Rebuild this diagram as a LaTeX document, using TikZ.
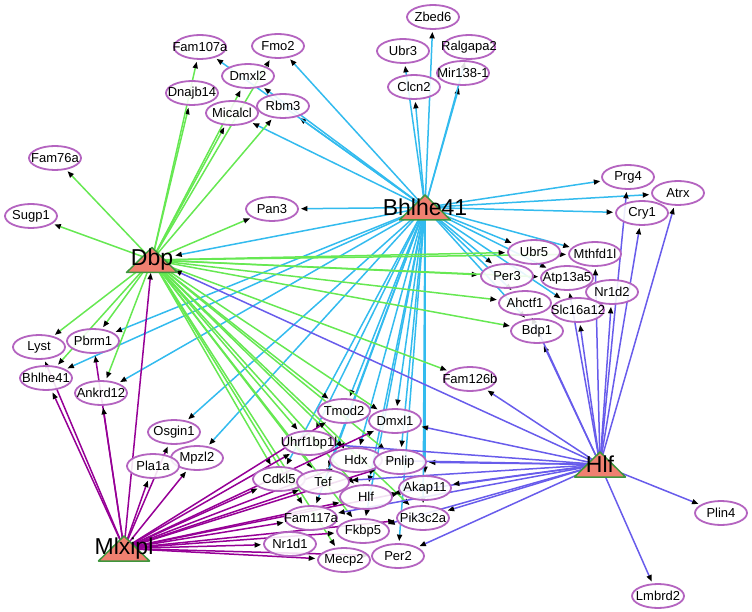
\documentclass[tikz,border=0pt]{standalone}
\usepackage{fontspec}
\setmainfont{Liberation Sans}
\usetikzlibrary{arrows.meta,shapes.geometric}
\pgfdeclarelayer{bg}
\pgfsetlayers{bg,main}
\definecolor{dbpgreen}{RGB}{102,232,82}
\definecolor{bhlcyan}{RGB}{51,187,238}
\definecolor{hlfblue}{RGB}{104,92,235}
\definecolor{mlxpurple}{RGB}{150,0,150}
\definecolor{genering}{RGB}{180,100,192}
\definecolor{trifill}{RGB}{240,128,112}
\definecolor{triline}{RGB}{62,150,60}
\tikzset{
  gene/.style={ellipse, draw=genering, line width=1.8pt, fill=white, fill opacity=.88,
    text opacity=1, minimum width=52pt, minimum height=24pt, inner sep=0pt,
    font=\fontsize{13}{15}\selectfont},
  hub/.style={inner sep=0pt, font=\fontsize{23}{25}\selectfont},
  hubtri/.style={fill=trifill, draw=triline, line width=1.5pt, line join=round},
  reg/.style={line width=1.5pt, shorten >=2pt, -{Triangle[length=6.5pt,width=5pt,color=black]}},
}
\begin{document}
\begin{tikzpicture}[x=1pt,y=-1pt]
  \useasboundingbox (0,0) rectangle (752,612);
  % target genes
  \foreach \n/\x/\y/\l in {fam107a/200/47/Fam107a, fmo2/278/46/Fmo2, dmxl2/248/76/Dmxl2,
      dnajb14/192/93/Dnajb14, micalcl/232/113/Micalcl, rbm3/283/106/Rbm3,
      fam76a/55/158/Fam76a, sugp1/31/216/Sugp1, pan3/272/209/Pan3,
      zbed6/433/17/Zbed6, ubr3/403/51/Ubr3, ralgapa2/469/47/Ralgapa2,
      mir138/463/73/Mir138-1, clcn2/414/87/Clcn2,
      prg4/628/177/Prg4, atrx/678/193/Atrx, cry1/642/213/Cry1,
      ubr5/534/252/Ubr5, mthfd1l/595/254/Mthfd1l, per3/507/276/Per3,
      atp13a5/567/278/Atp13a5, nr1d2/612/292/Nr1d2, ahctf1/525/303/Ahctf1,
      slc16a12/578/310/Slc16a12, bdp1/537/331/Bdp1, fam126b/470/379/Fam126b,
      plin4/721/513/Plin4, lmbrd2/658/596/Lmbrd2,
      lyst/39/347/Lyst, pbrm1/93/341/Pbrm1, bhlhes/46/378/Bhlhe41,
      ankrd12/101/393/Ankrd12, osgin1/174/432/Osgin1, mpzl2/197/458/Mpzl2,
      pla1a/153/466/Pla1a,
      tmod2/344/411/Tmod2, dmxl1/395/421/Dmxl1, uhrf1bp1l/309/443/Uhrf1bp1l,
      hdx/356/460/Hdx, pnlip/400/462/Pnlip, cdkl5/279/479/Cdkl5,
      tef/323/482/Tef, hlfs/366/497/Hlf, akap11/425/488/Akap11,
      fam117a/311/518/Fam117a, fkbp5/363/531/Fkbp5, pik3c2a/423/518/Pik3c2a,
      nr1d1/290/544/Nr1d1, mecp2/344/560/Mecp2, per2/398/556/Per2}
    {\node[gene] (\n) at (\x,\y) {\makebox[0pt]{\l}};}
  % regulators
  \foreach \n/\x/\y/\l in {dbp/152/260/Dbp, bhlhe/425/207.5/Bhlhe41,
      hlf/600/464.5/Hlf, mlxipl/124/548.5/Mlxipl}
    {\filldraw[hubtri] (\x,\y) ++(0,-12.5) -- ++(25.5,25) -- ++(-51,0) -- cycle;
     \node[hub] (\n) at (\x,\y) {\l};}
  \begin{pgfonlayer}{bg}
    \foreach \t in {dbp,pan3,fmo2,rbm3,micalcl,dmxl2,fam107a,clcn2,ubr3,zbed6,mir138,
        ralgapa2,prg4,atrx,cry1,ubr5,mthfd1l,per3,atp13a5,ahctf1,slc16a12,bdp1,
        pbrm1,bhlhes,ankrd12,osgin1,mpzl2,tmod2,dmxl1,uhrf1bp1l,cdkl5,tef,hdx,
        pnlip,hlfs,akap11,fam117a,fkbp5,pik3c2a,per2}
      {\draw[reg,bhlcyan] (bhlhe.center) -- (\t);}
    \foreach \t in {fam76a,sugp1,pan3,dnajb14,fam107a,micalcl,dmxl2,rbm3,fmo2,ubr5,
        mthfd1l,per3,atp13a5,ahctf1,bdp1,fam126b,lyst,pbrm1,bhlhes,ankrd12,tmod2,
        dmxl1,uhrf1bp1l,cdkl5,tef,hdx,pnlip,hlfs,fam117a,fkbp5,pik3c2a,mecp2}
      {\draw[reg,dbpgreen] (dbp.center) -- (\t);}
    \foreach \t in {dbp,fam126b,bdp1,ahctf1,slc16a12,nr1d2,mthfd1l,atp13a5,cry1,atrx,
        prg4,dmxl1,pnlip,hdx,uhrf1bp1l,tef,hlfs,akap11,pik3c2a,fkbp5,per2,plin4,
        lmbrd2,fam117a}
      {\draw[reg,hlfblue] (hlf.center) -- (\t);}
    \foreach \t in {dbp,lyst,bhlhes,pbrm1,ankrd12,osgin1,pla1a,mpzl2,cdkl5,uhrf1bp1l,
        tmod2,dmxl1,tef,hdx,hlfs,pnlip,akap11,fam117a,fkbp5,pik3c2a,nr1d1,mecp2,per2}
      {\draw[reg,mlxpurple] (mlxipl.center) -- (\t);}
  \end{pgfonlayer}
\end{tikzpicture}
\end{document}
